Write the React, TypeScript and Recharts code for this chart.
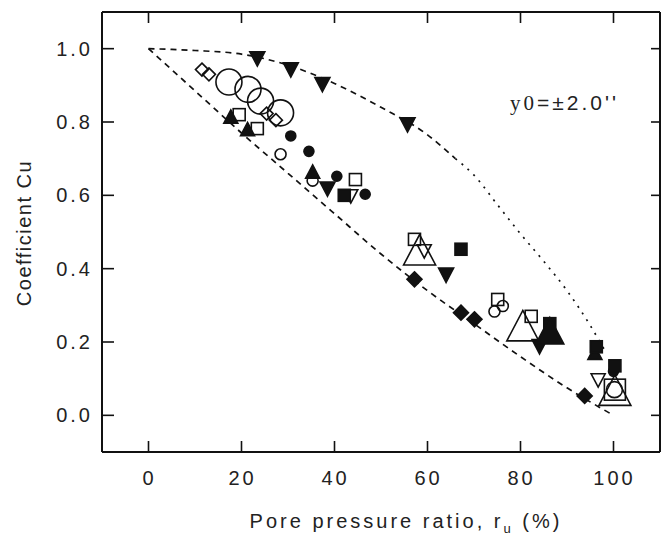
import React from 'react';
import { ScatterChart, Scatter, XAxis, YAxis } from 'recharts';

// tick values
const xTicks = [0, 20, 40, 60, 80, 100];
const yTicks = [0, 0.2, 0.4, 0.6, 0.8, 1.0];

// envelope curves
const upperDashed: [number, number][] = [
  [0, 1.0], [5, 0.998], [10, 0.995], [20, 0.985], [30, 0.955], [40, 0.905], [50, 0.84], [60, 0.765], [66, 0.7],
];
const upperDotted: [number, number][] = [
  [66, 0.7], [70, 0.655], [75, 0.575], [80, 0.495], [85, 0.42], [90, 0.34], [95, 0.245], [98, 0.18],
];
const lowerDashed: [number, number][] = [
  [0, 1.0], [10, 0.885], [20, 0.77], [30, 0.66], [40, 0.55], [50, 0.44], [60, 0.34], [70, 0.25], [80, 0.16], [90, 0.075], [100, 0.0],
];

// test points (r_u %, Cu), grouped by symbol
const invTriFilled: [number, number][] = [
  [23.4, 0.975], [30.6, 0.945], [37.4, 0.905], [55.7, 0.795], [38.5, 0.62], [64, 0.385], [84.1, 0.19],
];
const circleOpenBig: [number, number][] = [[17.3, 0.909], [21.4, 0.889], [24.1, 0.857], [28.4, 0.825]];
const diamondOpen: [number, number][] = [[11.5, 0.943], [13, 0.93], [25.4, 0.823], [27.4, 0.805]];
const triFilled: [number, number][] = [[17.7, 0.812], [21.3, 0.778], [35.3, 0.662], [96, 0.168]];
const squareOpen: [number, number][] = [
  [19.5, 0.82], [23.4, 0.782], [44.5, 0.643], [57.2, 0.48], [75.1, 0.316], [82.3, 0.27],
];
const circleFilled: [number, number][] = [[30.6, 0.762], [34.5, 0.72], [40.5, 0.652], [46.6, 0.603], [100, 0.12]];
const circleOpen: [number, number][] = [[28.4, 0.712], [35.3, 0.64], [74.4, 0.283], [76.2, 0.298]];
const squareFilled: [number, number][] = [[42.1, 0.6], [67.2, 0.453], [86.3, 0.25], [96.3, 0.187], [100.3, 0.135]];
const invTriOpen: [number, number][] = [[43.5, 0.6], [59.3, 0.45], [96.7, 0.098]];
const triOpenBig: [number, number][] = [[58.3, 0.445], [80.5, 0.238], [100.3, 0.062]];
const diamondFilled: [number, number][] = [[57.2, 0.371], [67.2, 0.28], [70.1, 0.262], [93.8, 0.053]];
const triFilledBig: [number, number][] = [[86.3, 0.225]];
const squareOpenBig: [number, number][] = [[100.3, 0.07]];
const circleOpenMid: [number, number][] = [[100.2, 0.07]];

const toPts = (arr: [number, number][]) => arr.map(([x, y]) => ({ x, y }));

const INK = '#111';
const FONT = '"Liberation Sans", Arial, sans-serif';

type Kind = 'circle' | 'square' | 'tri' | 'invtri' | 'diamond';

const marker = (kind: Kind, size: number, filled: boolean) => (props: any) => {
  const { cx, cy } = props;
  if (cx == null || cy == null) return <g />;
  const fill = filled ? INK : 'none';
  const common = { fill, stroke: INK, strokeWidth: 1.6 };
  const h = size / 2;
  switch (kind) {
    case 'circle':
      return <circle cx={cx} cy={cy} r={h} {...common} />;
    case 'square':
      return <rect x={cx - h} y={cy - h} width={size} height={size} {...common} />;
    case 'diamond':
      return <path d={`M${cx},${cy - h} L${cx + h},${cy} L${cx},${cy + h} L${cx - h},${cy}Z`} {...common} />;
    case 'tri':
      return <path d={`M${cx},${cy - size * 0.55} L${cx + h},${cy + size * 0.4} L${cx - h},${cy + size * 0.4}Z`} {...common} />;
    case 'invtri':
      return <path d={`M${cx},${cy + size * 0.55} L${cx + h},${cy - size * 0.4} L${cx - h},${cy - size * 0.4}Z`} {...common} />;
  }
  return <g />;
};

const noDot = () => <g />;

const BottomTick = ({ x, y, payload }: any) => (
  <g>
    <line x1={x} y1={y} x2={x} y2={y - 11} stroke={INK} strokeWidth={1.6} />
    <text x={x + 1} y={y + 33} textAnchor="middle" fontSize={20} letterSpacing={3} fill="#222" fontFamily={FONT}>
      {payload.value}
    </text>
  </g>
);

const LeftTick = ({ x, y, payload }: any) => (
  <g>
    <line x1={x} y1={y} x2={x + 12} y2={y} stroke={INK} strokeWidth={1.6} />
    <text x={x - 9} y={y + 7} textAnchor="end" fontSize={20} letterSpacing={3} fill="#222" fontFamily={FONT}>
      {Number(payload.value).toFixed(1)}
    </text>
  </g>
);

const TopTick = ({ x, y }: any) => <line x1={x} y1={y} x2={x} y2={y + 11} stroke={INK} strokeWidth={1.6} />;
const RightTick = ({ x, y }: any) => <line x1={x} y1={y} x2={x - 9} y2={y} stroke={INK} strokeWidth={1.6} />;

const axisLine = { stroke: INK, strokeWidth: 2 };

export default function App() {
  return (
    <div style={{ position: 'absolute', left: 0, top: 0, width: 661, height: 537, background: '#fff' }}>
      <ScatterChart width={661} height={537} margin={{ top: 11, right: 0, bottom: 84, left: 101 }}>
        <XAxis
          xAxisId="b"
          type="number"
          dataKey="x"
          domain={[-10, 110]}
          ticks={xTicks}
          allowDataOverflow
          height={1}
          tickSize={0}
          tickMargin={0}
          tickLine={false}
          axisLine={axisLine}
          tick={<BottomTick />}
        />
        <XAxis
          xAxisId="t"
          orientation="top"
          type="number"
          dataKey="x"
          domain={[-10, 110]}
          ticks={xTicks}
          allowDataOverflow
          height={1}
          tickSize={0}
          tickMargin={0}
          tickLine={false}
          axisLine={axisLine}
          tick={<TopTick />}
        />
        <YAxis
          yAxisId="l"
          type="number"
          dataKey="y"
          domain={[-0.1, 1.1]}
          ticks={yTicks}
          allowDataOverflow
          width={1}
          tickSize={0}
          tickMargin={0}
          tickLine={false}
          axisLine={axisLine}
          tick={<LeftTick />}
        />
        <YAxis
          yAxisId="r"
          orientation="right"
          type="number"
          dataKey="y"
          domain={[-0.1, 1.1]}
          ticks={yTicks}
          allowDataOverflow
          width={1}
          tickSize={0}
          tickMargin={0}
          tickLine={false}
          axisLine={axisLine}
          tick={<RightTick />}
        />

        {/* keeps the mirror axes bound to data */}
        <Scatter xAxisId="t" yAxisId="r" data={toPts(lowerDashed)} shape={noDot} isAnimationActive={false} />

        <Scatter xAxisId="b" yAxisId="l" data={toPts(upperDashed)} line={{ stroke: INK, strokeWidth: 1.7, strokeDasharray: '6 5' }} lineJointType="monotoneX" shape={noDot} isAnimationActive={false} />
        <Scatter xAxisId="b" yAxisId="l" data={toPts(upperDotted)} line={{ stroke: INK, strokeWidth: 1.7, strokeDasharray: '2 6' }} lineJointType="monotoneX" shape={noDot} isAnimationActive={false} />
        <Scatter xAxisId="b" yAxisId="l" data={toPts(lowerDashed)} line={{ stroke: INK, strokeWidth: 1.7, strokeDasharray: '6 5' }} lineJointType="monotoneX" shape={noDot} isAnimationActive={false} />

        <Scatter xAxisId="b" yAxisId="l" data={toPts(circleOpenBig)} shape={marker('circle', 26, false)} isAnimationActive={false} />
        <Scatter xAxisId="b" yAxisId="l" data={toPts(diamondOpen)} shape={marker('diamond', 13, false)} isAnimationActive={false} />
        <Scatter xAxisId="b" yAxisId="l" data={toPts(triOpenBig)} shape={marker('tri', 32, false)} isAnimationActive={false} />
        <Scatter xAxisId="b" yAxisId="l" data={toPts(squareOpenBig)} shape={marker('square', 21, false)} isAnimationActive={false} />
        <Scatter xAxisId="b" yAxisId="l" data={toPts(circleOpenMid)} shape={marker('circle', 16, false)} isAnimationActive={false} />
        <Scatter xAxisId="b" yAxisId="l" data={toPts(squareOpen)} shape={marker('square', 12, false)} isAnimationActive={false} />
        <Scatter xAxisId="b" yAxisId="l" data={toPts(circleOpen)} shape={marker('circle', 11, false)} isAnimationActive={false} />
        <Scatter xAxisId="b" yAxisId="l" data={toPts(invTriOpen)} shape={marker('invtri', 14, false)} isAnimationActive={false} />
        <Scatter xAxisId="b" yAxisId="l" data={toPts(invTriFilled)} shape={marker('invtri', 15, true)} isAnimationActive={false} />
        <Scatter xAxisId="b" yAxisId="l" data={toPts(triFilled)} shape={marker('tri', 14, true)} isAnimationActive={false} />
        <Scatter xAxisId="b" yAxisId="l" data={toPts(circleFilled)} shape={marker('circle', 10, true)} isAnimationActive={false} />
        <Scatter xAxisId="b" yAxisId="l" data={toPts(squareFilled)} shape={marker('square', 12, true)} isAnimationActive={false} />
        <Scatter xAxisId="b" yAxisId="l" data={toPts(diamondFilled)} shape={marker('diamond', 15, true)} isAnimationActive={false} />
        <Scatter xAxisId="b" yAxisId="l" data={toPts(triFilledBig)} shape={marker('tri', 28, true)} isAnimationActive={false} />
      </ScatterChart>

      <svg width={661} height={537} style={{ position: 'absolute', left: 0, top: 0, pointerEvents: 'none' }}>
        <text x={406} y={528} textAnchor="middle" fontSize={20} letterSpacing={3} fill="#222" fontFamily={FONT}>
          Pore pressure ratio, r<tspan fontSize={13} dy={5}>u</tspan>
          <tspan dy={-5}> (%)</tspan>
        </text>
        <text transform="translate(31,233) rotate(-90)" textAnchor="middle" fontSize={20} letterSpacing={1.5} fill="#222" fontFamily={FONT}>
          Coefficient Cu
        </text>
        <text x={510} y={110} fontSize={21} letterSpacing={3} fill="#222" fontFamily={FONT}>
          <tspan fontFamily='"Liberation Serif", serif'>y0</tspan>=±2.0''
        </text>
      </svg>
    </div>
  );
}
